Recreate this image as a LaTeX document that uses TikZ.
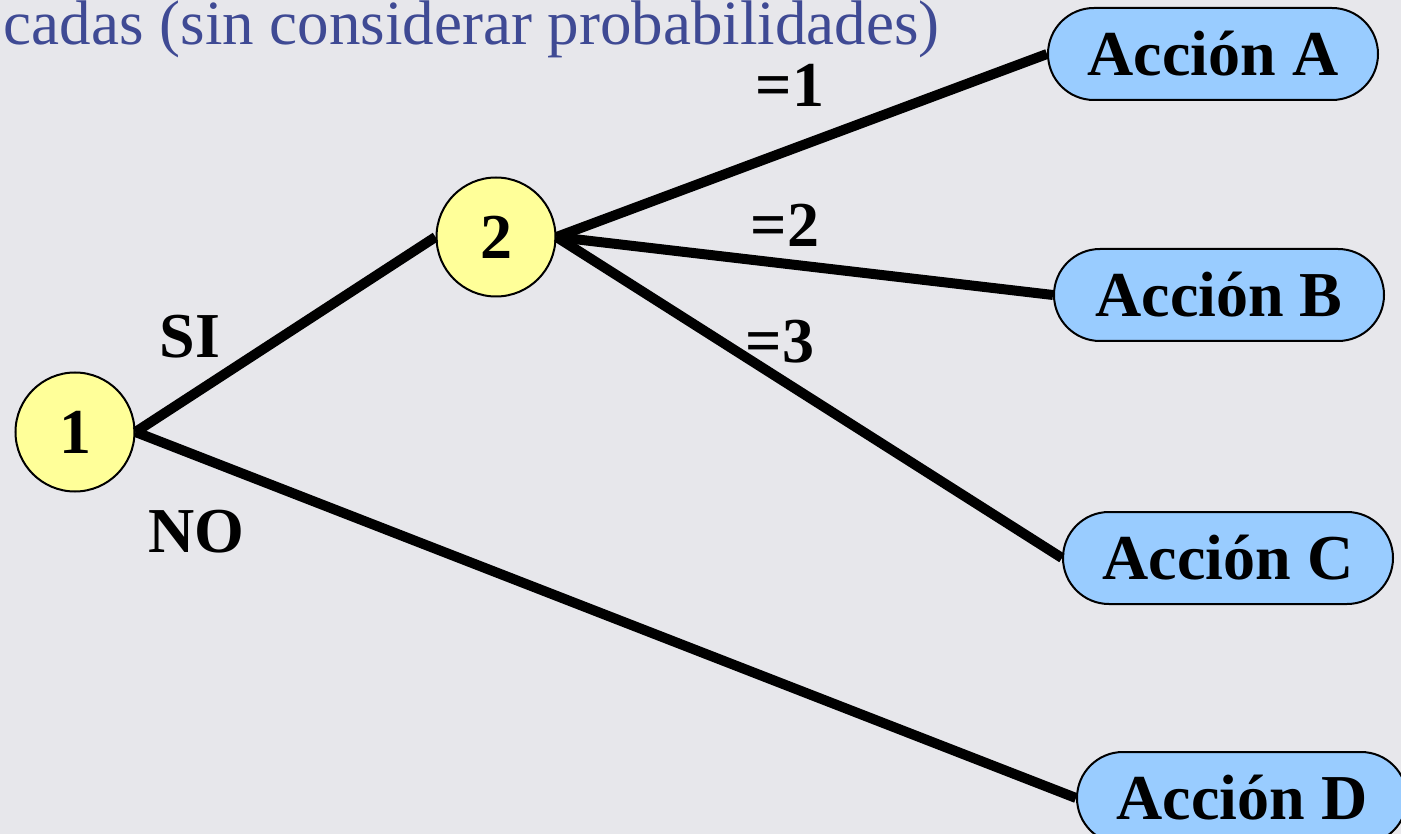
\documentclass[tikz,border=0pt]{standalone}
\usepackage{fontspec}
\setmainfont{Liberation Serif}
\usetikzlibrary{shapes.misc}
\definecolor{bgc}{HTML}{E7E7EB}
\definecolor{titlec}{HTML}{3F4A94}
\definecolor{yel}{HTML}{FFFF99}
\definecolor{blu}{HTML}{99CCFF}
\tikzset{
  dnode/.style={circle, draw=black, line width=2pt, fill=yel, minimum size=119pt, inner sep=0pt, font=\fontsize{64}{64}\selectfont\bfseries},
  anode/.style={rounded rectangle, draw=black, line width=2pt, fill=blu, minimum width=330pt, minimum height=92pt, inner sep=0pt, font=\fontsize{64}{64}\selectfont\bfseries},
  branch/.style={line width=10pt},
  lbl/.style={font=\fontsize{64}{64}\selectfont\bfseries, inner sep=0pt}
}
\begin{document}
\begin{tikzpicture}[x=1pt,y=-1pt]
\useasboundingbox[fill=bgc] (0,0) rectangle (1401,834);
\node[anchor=base east, text=titlec, inner sep=0pt, font=\fontsize{63}{63}\selectfont] (title) at (940,45) {cadas (sin considerar probabilidades)};
\node[dnode] (n1) at (75,432) {1};
\node[dnode] (n2) at (496,237) {2};
\node[anode] (A) at (1213,54) {Acción A};
\node[anode] (B) at (1219,295) {Acción B};
\node[anode] (C) at (1228,558) {Acción C};
\node[anode] (D) at (1242,798) {Acción D};
\draw[branch] (n1.east) -- (n2.west);
\draw[branch] (n1.east) -- (D.west);
\draw[branch] (n2.east) -- (A.west);
\draw[branch] (n2.east) -- (B.west);
\draw[branch] (n2.east) -- (C.west);
\node[lbl] (si) at (190,337) {SI};
\node[lbl] (no) at (196,532) {NO};
\node[lbl] (e1) at (790,85) {=1};
\node[lbl] (e2) at (785,225) {=2};
\node[lbl] (e3) at (780,342) {=3};
\end{tikzpicture}
\end{document}
